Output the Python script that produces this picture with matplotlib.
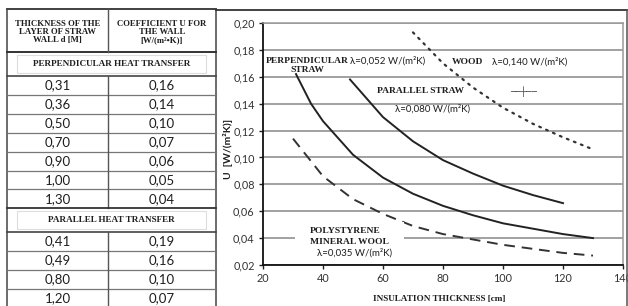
import matplotlib
matplotlib.use("Agg")
import matplotlib.pyplot as plt
from matplotlib.lines import Line2D
from matplotlib.patches import Rectangle

# ---------------- data ----------------
perp_d = ["0,31", "0,36", "0,50", "0,70", "0,90", "1,00", "1,30"]
perp_u = ["0,16", "0,14", "0,10", "0,07", "0,06", "0,05", "0,04"]
par_d = ["0,41", "0,49", "0,80", "1,20"]
par_u = ["0,19", "0,16", "0,10", "0,07"]

perp_x = [31, 36, 40, 50, 60, 70, 80, 90, 100, 110, 120, 130]
perp_y = [0.162, 0.140, 0.127, 0.102, 0.085, 0.073, 0.064, 0.057, 0.051, 0.047, 0.043, 0.040]
par_x = [49, 60, 70, 80, 90, 100, 110, 120]
par_y = [0.158, 0.130, 0.112, 0.098, 0.088, 0.079, 0.072, 0.066]
wood_x = [70, 80, 90, 100, 110, 120, 130]
wood_y = [0.193, 0.170, 0.152, 0.137, 0.125, 0.115, 0.106]
poly_x = [30, 40, 50, 60, 70, 80, 90, 100, 110, 120, 130]
poly_y = [0.114, 0.086, 0.069, 0.058, 0.049, 0.043, 0.039, 0.035, 0.032, 0.029, 0.027]

xticks = [20, 40, 60, 80, 100, 120, 140]
yticks = [0.02, 0.04, 0.06, 0.08, 0.10, 0.12, 0.14, 0.16, 0.18, 0.20]

header_left = "THICKNESS OF THE\nLAYER OF STRAW\nWALL d [M]"
header_right = "COEFFICIENT U FOR\nTHE WALL\n[W/(m²•K)]"
sec1 = "PERPENDICULAR HEAT TRANSFER"
sec2 = "PARALLEL HEAT TRANSFER"

# ---------------- figure ----------------
W, H = 628, 306
fig = plt.figure(figsize=(W / 100, H / 100), dpi=100)
fig.patch.set_facecolor("white")

def fx(px):
    return px / W

def fy(py):
    return 1 - py / H

INK = "#1e1e1e"
SERIF = ["Liberation Serif", "DejaVu Serif"]
SANS = ["Lato", "DejaVu Sans"]

def hline(x0, x1, y, lw=0.9, c="#555555"):
    fig.add_artist(Line2D([fx(x0), fx(x1)], [fy(y), fy(y)], lw=lw, color=c))

def vline(x, y0, y1, lw=0.9, c="#555555"):
    fig.add_artist(Line2D([fx(x), fx(x)], [fy(y0), fy(y1)], lw=lw, color=c))

# ---------------- table ----------------
TL, TM, TR = 7, 108, 216
top = 9
hline(TL, TR, top, lw=1.3, c="#333333")
vline(TL, top, 310, lw=1.1, c="#444444")
vline(TR, top, 310, lw=1.1, c="#444444")
hline(TL, TR, 52, lw=1.4, c="#333333")
vline(TM, top, 52, lw=1.0)

fig.text(fx((TL + TM) / 2), fy(32), header_left, ha="center", va="center",
         family=SERIF, weight="bold", fontsize=6.3, color=INK, linespacing=1.05)
fig.text(fx((TM + TR) / 2), fy(32), header_right, ha="center", va="center",
         family=SERIF, weight="bold", fontsize=6.3, color=INK, linespacing=1.05)

def section(y0, y1, label):
    hline(TL, TR, y1, lw=1.2, c="#444444")
    fig.add_artist(Rectangle((fx(TL + 10), fy(y1 - 3)), fx(TR - TL - 20), fy(y0 + 3) - fy(y1 - 3),
                             facecolor="none", edgecolor="#dddddd", lw=0.8))
    fig.text(fx((TL + TR) / 2), fy((y0 + y1) / 2), label, ha="center", va="center",
             family=SERIF, weight="bold", fontsize=6.6, color=INK)

def rows(y_start, h, dvals, uvals):
    n = len(dvals)
    for i, (d, u) in enumerate(zip(dvals, uvals)):
        yc = y_start + (i + 0.5) * h
        fig.text(fx((TL + TM) / 2), fy(yc), d, ha="center", va="center",
                 family=SANS, fontsize=9.5, color=INK)
        fig.text(fx((TM + TR) / 2), fy(yc), u, ha="center", va="center",
                 family=SANS, fontsize=9.5, color=INK)
        if i < n - 1:
            hline(TL, TR, y_start + (i + 1) * h, lw=0.9, c="#777777")
    vline(TM, y_start, y_start + n * h, lw=1.0)

section(52, 76, sec1)
rows(76, 18.9, perp_d, perp_u)
hline(TL, TR, 208, lw=1.3, c="#333333")
section(208, 232, sec2)
rows(232, 19.0, par_d, par_u)

# chart frame
hline(TR, 627, 10, lw=1.3, c="#333333")
vline(627, 10, 310, lw=1.1, c="#555555")

# ---------------- chart ----------------
ax = fig.add_axes([fx(263), fy(265), fx(623) - fx(263), fy(23) - fy(265)])
ax.set_xlim(20, 140)
ax.set_ylim(0.02, 0.20)
ax.set_xticks(xticks)
ax.set_yticks(yticks)
ax.set_xticklabels([str(v) for v in xticks])
ax.set_yticklabels([f"{v:.2f}".replace(".", ",") for v in yticks])
ax.yaxis.grid(True, color="#9a9a9a", lw=1.3)
ax.set_axisbelow(True)
for s in ["top", "right"]:
    ax.spines[s].set_color("#9a9a9a")
    ax.spines[s].set_linewidth(1.1)
for s in ["left", "bottom"]:
    ax.spines[s].set_color("#111111")
    ax.spines[s].set_linewidth(1.3)
ax.tick_params(axis="both", length=3, width=1.0, color="#222222",
               labelsize=7.8, labelcolor="#333333", pad=3)
for lab in ax.get_xticklabels() + ax.get_yticklabels():
    lab.set_family(SANS)

ax.plot(perp_x, perp_y, color="#222222", lw=1.4)
ax.plot(par_x, par_y, color="#222222", lw=1.4)
ax.plot(wood_x, wood_y, color="#333333", lw=1.6, linestyle=(0, (0.8, 2.6)),
        dash_capstyle="round")
ax.plot(poly_x, poly_y, color="#333333", lw=1.4, linestyle=(0, (5.5, 3.5)))

ax.set_xlabel("INSULATION THICKNESS [cm]", family=SERIF, weight="bold",
              fontsize=6.6, color=INK, labelpad=8)
ax.xaxis.set_label_coords(0.49, -0.125)
ax.set_ylabel("U  [W/(m²K)]", family=SANS, weight="bold", fontsize=7.5,
              color=INK)
ax.yaxis.set_label_coords(-0.083, 0.48)

CAP = dict(family=SERIF, weight="bold", fontsize=6.8, color=INK)
LAM = dict(family=SANS, fontsize=7.0, color=INK)

ax.text(34.8, 0.1684, "PERPENDICULAR\nSTRAW", ha="center", va="center",
        multialignment="center", linespacing=1.1, **CAP)
ax.text(49, 0.1717, "λ=0,052 W/(m²K)", ha="left", va="center", **LAM)
ax.text(83, 0.171, "WOOD", ha="left", va="center", **CAP)
ax.text(96.3, 0.171, "λ=0,140 W/(m²K)", ha="left", va="center", **LAM)
ax.text(58, 0.1494, "PARALLEL STRAW", ha="left", va="center", **CAP)
ax.text(107, 0.1487, "──┼──", ha="center", va="center",
        family=["DejaVu Sans"], fontsize=6.5, color="#444444")
ax.text(64, 0.136, "λ=0,080 W/(m²K)", ha="left", va="center", **LAM)

# polystyrene / mineral wool block (one white box behind all three lines)
ax.text(35.7, 0.0374, "MINERAL WOOL", ha="left", va="center", **CAP,
        bbox=dict(facecolor="white", edgecolor="none", pad=11))
ax.text(35.7, 0.0455, "POLYSTYRENE", ha="left", va="center", **CAP)
ax.text(38.0, 0.0287, "λ=0,035 W/(m²K)", ha="left", va="center", **LAM)

fig.savefig("out.png", dpi=100, facecolor="white")
